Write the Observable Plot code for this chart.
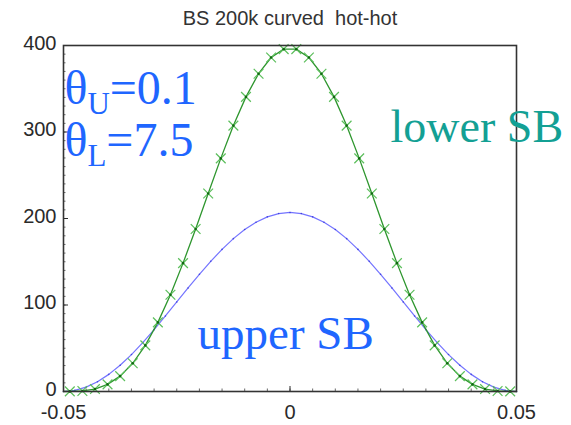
<!DOCTYPE html>
<html><head><meta charset="utf-8">
<script src="https://cdn.jsdelivr.net/npm/d3@7"></script>
<script src="https://cdn.jsdelivr.net/npm/@observablehq/plot@0.6"></script>
<style>body{margin:0;background:#fff}</style>
</head><body><div id="chart"></div>
<script>
const title = "BS 200k curved  hot-hot";
const xTicks = [-0.05, 0, 0.05];
const xTickLabels = ["-0.05", "0", "0.05"];
const yTicks = [0, 100, 200, 300, 400];

// upper sideband (blue)
const upperX = [-0.05,-0.0475,-0.045,-0.0425,-0.04,-0.0375,-0.035,-0.0325,-0.03,-0.0275,-0.025,-0.0225,-0.02,-0.0175,-0.015,-0.0125,-0.01,-0.0075,-0.005,-0.0025,0,
  0.0025,0.005,0.0075,0.01,0.0125,0.015,0.0175,0.02,0.0225,0.025,0.0275,0.03,0.0325,0.035,0.0375,0.04,0.0425,0.045,0.0475,0.05];
const upperY = [0,1.3,5.1,11.3,19.8,30.3,42.7,56.5,71.5,87.3,103.5,119.7,135.5,150.5,164.3,176.7,187.2,195.7,201.9,205.7,207,
  205.7,201.9,195.7,187.2,176.7,164.3,150.5,135.5,119.7,103.5,87.3,71.5,56.5,42.7,30.3,19.8,11.3,5.1,1.3,0];

// lower sideband (green, x markers)
const lowerX = [-0.05,-0.04861,-0.04583,-0.04306,-0.04028,-0.0375,-0.03472,-0.03194,-0.02917,-0.02639,-0.02361,-0.02083,-0.01806,-0.01528,-0.0125,-0.00972,-0.00694,-0.00417,-0.00139,
  0.00139,0.00417,0.00694,0.00972,0.0125,0.01528,0.01806,0.02083,0.02361,0.02639,0.02917,0.03194,0.03472,0.0375,0.04028,0.04306,0.04583,0.04861,0.05];
const lowerY = [0,0.1,0.6,2.8,8.2,17.8,32.6,53.3,79.9,111.8,148.4,187.9,228.9,269.5,307.4,340.6,367.4,386.1,395.8,
  395.8,386.1,367.4,340.6,307.4,269.5,228.9,187.9,148.4,111.8,79.9,53.3,32.6,17.8,8.2,2.8,0.6,0.1,0];

// annotations
const annoText = ["θ|U|=0.1", "θ|L|=7.5", "lower SB", "upper SB"];
const annoX = [-0.0498, -0.0498, 0.0222, -0.0204];
const annoY = [350, 290, 305, 67];
const annoSize = [48, 48, 46, 47];
const annoColor = ["#1f66ff", "#1f66ff", "#13a094", "#1f66ff"];

const upper = upperX.map((x, i) => ({x, y: upperY[i]}));
const lower = lowerX.map((x, i) => ({x, y: lowerY[i]}));
const lowerMarks = lower.slice(1, -1);
const anno = annoText.map((t, i) => ({t, x: annoX[i], y: annoY[i], c: annoColor[i], s: annoSize[i]}));

const plot = Plot.plot({
  width: 571, height: 425,
  marginLeft: 63, marginRight: 55, marginTop: 45, marginBottom: 34,
  style: {fontFamily: "'Liberation Sans', Arial, sans-serif", fontSize: "20px", color: "#2a2a2a", background: "#fff"},
  x: {domain: [-0.05, 0.05], label: null},
  y: {domain: [0, 400], label: null},
  marks: [
    Plot.axisY({ticks: yTicks, tickSize: 0, tickPadding: 7, dy: -2, fontSize: 20, label: null}),
    Plot.axisY({ticks: yTicks, tickSize: -5, tickFormat: () => "", label: null}),
    Plot.axisY({ticks: d3.range(0, 401, 10), tickSize: -2.5, tickFormat: () => "", label: null, strokeOpacity: 0.7}),
    Plot.axisX({ticks: xTicks, tickSize: 0, tickPadding: 13, fontSize: 20, label: null, tickFormat: (d, i) => xTickLabels[i]}),
    Plot.axisX({ticks: xTicks, tickSize: -5, tickFormat: () => "", label: null}),
    Plot.axisX({ticks: d3.range(-0.05, 0.0501, 0.005), tickSize: -2.5, tickFormat: () => "", label: null, strokeOpacity: 0.7}),
    Plot.line(upper, {x: "x", y: "y", stroke: "#7474ff", strokeWidth: 1.2}),
    Plot.dot(upper, {x: "x", y: "y", r: 0.8, fill: "#4444dd", stroke: "none"}),
    Plot.line(lower, {x: "x", y: "y", stroke: "#2e962e", strokeWidth: 1.3}),
    Plot.dot(lowerMarks, {x: "x", y: "y", symbol: "times", r: 4.5, stroke: "#5cbf5c", strokeWidth: 1.2}),
    Plot.dot(lowerMarks, {x: "x", y: "y", r: 1.3, fill: "#116611", stroke: "none"}),
    Plot.frame({stroke: "#333", strokeWidth: 1.6}),
    Plot.text([title], {frameAnchor: "top", dy: -27, lineAnchor: "middle", text: d => d, fontSize: 20, fill: "#333"}),
    Plot.text(anno, {x: "x", y: "y", text: "t", fill: "c", fontSize: "s", textAnchor: "start", lineAnchor: "middle",
      fontFamily: "'Liberation Serif', 'Times New Roman', serif", className: "anno"})
  ]
});
document.getElementById("chart").appendChild(plot);

// turn "θ|U|=0.1" into subscripted text
d3.select(plot).selectAll("g.anno text").each(function() {
  const s = this.textContent;
  const parts = s.split("|");
  if (parts.length === 3) {
    const t = d3.select(this);
    t.text(null);
    t.append("tspan").text(parts[0]);
    t.append("tspan").attr("font-size", 31).attr("dy", 10).text(parts[1]);
    t.append("tspan").attr("dy", -10).text(parts[2]);
  }
});
</script>
</body></html>
